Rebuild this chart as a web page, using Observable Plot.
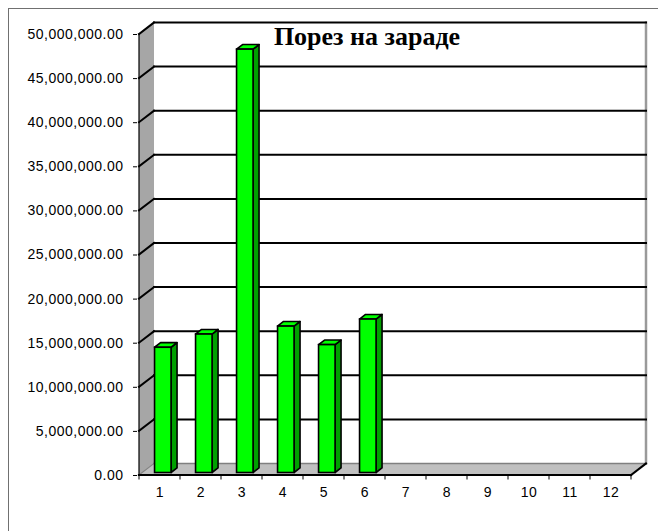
<!DOCTYPE html>
<html><head><meta charset="utf-8">
<script src="https://cdn.jsdelivr.net/npm/d3@7"></script>
<script src="https://cdn.jsdelivr.net/npm/@observablehq/plot@0.6"></script>
<style>
html,body{margin:0;padding:0;background:#fff;}
#wrap{position:relative;width:658px;height:531px;overflow:hidden;background:#fff;}
#border{position:absolute;left:7.5px;top:7.5px;width:720px;height:620px;border:1px solid #707070;}
#chart{position:absolute;left:0;top:0;}
#chart svg g[aria-label^="x-axis"] text,
#chart svg g[aria-label^="y-axis"] text{font-size:14px;letter-spacing:0.5px;font-family:'Liberation Sans',Arial,sans-serif;}
</style></head><body>
<div id="wrap"><div id="border"></div><div id="chart"></div></div>
<script>
// ---- data ----
const categories = [1, 2, 3, 4, 5, 6, 7, 8, 9, 10, 11, 12];
const values = [14200000, 15700000, 48000000, 16600000, 14500000, 17400000];
const yTicks = [0, 5000000, 10000000, 15000000, 20000000, 25000000, 30000000, 35000000, 40000000, 45000000, 50000000];
const title = "Порез на зараде";

const data = values.map((v, i) => ({cat: categories[i], value: v}));

// ---- 3D styling constants (pixels) ----
const DX = 15, DY = -11.5;          // depth of the walls
const BX = 3.3, BY = -2.5;          // bar front offset into the depth
const BDX = 6, BDY = -4.6;          // bar depth
const INSET = 12.25;

function bandwidthOf(x) {
  return x.bandwidth ? x.bandwidth() : (x(categories[1]) - x(categories[0]));
}
function poly(g, pts, fill, stroke, sw) {
  g.append("polygon").attr("points", pts.map(p => p.join(",")).join(" "))
    .attr("fill", fill).attr("stroke", stroke || "none").attr("stroke-width", sw || 0)
    .attr("stroke-linejoin", "round");
}
function line(g, x1, y1, x2, y2, stroke, sw) {
  g.append("line").attr("x1", x1).attr("y1", y1).attr("x2", x2).attr("y2", y2)
    .attr("stroke", stroke).attr("stroke-width", sw).attr("stroke-linecap", "square");
}

function scene(index, scales) {
  const x = scales.x, y = scales.y;
  const bw = bandwidthOf(x);
  const X0 = x(categories[0]), X1 = x(categories[categories.length - 1]) + bw;
  const y0 = y(0), yT = y(yTicks[yTicks.length - 1]);
  const g = d3.create("svg:g");
  // left side wall
  poly(g, [[X0, y0], [X0, yT], [X0 + DX, yT + DY], [X0 + DX, y0 + DY]], "#a6a6a6");
  // floor
  poly(g, [[X0, y0], [X1, y0], [X1 + DX, y0 + DY], [X0 + DX, y0 + DY]], "#c0c0c0");
  // back wall
  poly(g, [[X0 + DX, yT + DY], [X1 + DX, yT + DY], [X1 + DX, y0 + DY], [X0 + DX, y0 + DY]], "#ffffff");
  // back wall right edge
  line(g, X1 + DX, yT + DY, X1 + DX, y0 + DY, "#9a9a9a", 2.5);
  // floor back edge and left floor edge
  line(g, X0 + DX, y0 + DY, X1 + DX, y0 + DY, "#808080", 1.5);
  line(g, X0, y0, X0 + DX, y0 + DY, "#808080", 1.2);
  // gridlines
  yTicks.slice(1).forEach(v => {
    const yy = y(v);
    line(g, X0, yy, X0 + DX, yy + DY, "#000", 2);
    line(g, X0 + DX, yy + DY, X1 + DX, yy + DY, "#000", 2);
  });
  // axis lines
  line(g, X0, y0, X0, yT, "#000", 1.2);
  line(g, X0, y0, X1, y0, "#000", 2.2);
  line(g, X1, y0, X1 + DX, y0 + DY, "#000", 2);
  // x ticks at band edges
  categories.forEach(c => line(g, x(c), y0, x(c), y0 + 4, "#000", 1));
  line(g, X1, y0, X1, y0 + 4, "#000", 1);
  return g.node();
}

function barSides(index, scales) {
  const x = scales.x, y = scales.y;
  const bw = bandwidthOf(x);
  const g = d3.create("svg:g");
  data.forEach(d => {
    const xl = x(d.cat) + INSET + BX, xr = x(d.cat) + bw - INSET + BX;
    const yt = y(d.value) + BY, yb = y(0) + BY;
    poly(g, [[xr, yb], [xr, yt], [xr + BDX, yt + BDY], [xr + BDX, yb + BDY]], "#00a000", "#000", 1.6);
    poly(g, [[xl, yt], [xr, yt], [xr + BDX, yt + BDY], [xl + BDX, yt + BDY]], "#00ff00", "#000", 1.6);
  });
  return g.node();
}

const chart = Plot.plot({
  width: 658,
  height: 531,
  marginLeft: 137,
  marginRight: 26,
  marginTop: 34,
  marginBottom: 56,
  style: {fontFamily: "'Liberation Sans', Arial, sans-serif", fontSize: "14px", color: "#000", background: "transparent", overflow: "visible"},
  x: {type: "band", domain: categories, padding: 0, tickSize: 0, tickPadding: 12, label: null},
  y: {domain: [0, 50000000], ticks: yTicks, tickFormat: d3.format(",.2f"), tickSize: 4, tickPadding: 10, label: null},
  marks: [
    scene,
    barSides,
    Plot.barY(data, {x: "cat", y: "value", fill: "#00ff00", stroke: "#000", strokeWidth: 1.6,
      insetLeft: INSET, insetRight: INSET, dx: BX, dy: BY}),
    Plot.text([title], {frameAnchor: "top", text: d => d, dx: -18, dy: 2.5, lineAnchor: "middle",
      fontFamily: "'Liberation Serif', 'Times New Roman', serif", fontWeight: "bold", fontSize: 26,
      fill: "#000", ariaLabel: "title"})
  ]
});
document.getElementById("chart").appendChild(chart);
</script>
</body></html>
